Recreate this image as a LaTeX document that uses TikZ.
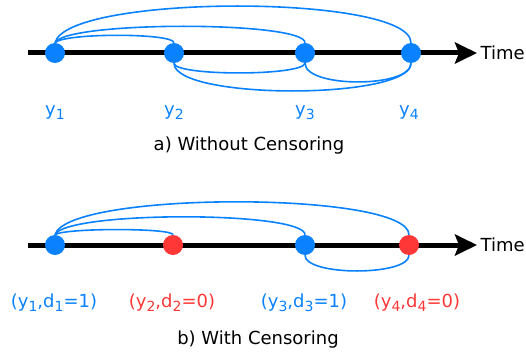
\documentclass[tikz,border=0pt]{standalone}
\usepackage{fontspec}
\setmainfont{DejaVu Sans}
\usetikzlibrary{arrows.meta}
\definecolor{evtblue}{RGB}{10,130,255}
\definecolor{cenred}{RGB}{255,55,55}
\newcommand{\idx}[1]{\raisebox{-4pt}{\fontsize{14}{14}\selectfont #1}}
\tikzset{
  axis/.style={line width=5pt,-{Stealth[length=22pt,width=21pt,inset=4pt]}},
  dot/.style={circle,fill=#1,minimum size=20pt,inner sep=0pt},
  arc/.style={evtblue,line width=1.6pt},
  lab/.style={text=#1,font=\fontsize{18}{21}\selectfont},
}
\begin{document}
\begin{tikzpicture}[x=1pt,y=1pt]
\useasboundingbox (0,0) rectangle (526,354);
% a) without censoring
\coordinate (AS) at (28,301);
\coordinate (AT) at (477,301);
\draw[axis] (AS) -- (AT);
\node[lab=black,anchor=west] (TA) at (AT) {Time};
\node[dot=evtblue] (A1) at (55,301) {};
\node[dot=evtblue] (A2) at (174,301) {};
\node[dot=evtblue] (A3) at (305,301) {};
\node[dot=evtblue] (A4) at (411,301) {};
\draw[arc] (A1.north) .. controls +(8,10) and +(0,10) .. (A2.north);
\draw[arc] (A1.north) .. controls +(10,22) and +(0,22) .. (A3.north);
\draw[arc] (A1.north) .. controls +(12,49) and +(0,49) .. (A4.north);
\draw[arc] (A2.south) .. controls +(0,-13) and +(-2,-13) .. (A3.south);
\draw[arc] (A3.south) .. controls +(0,-25) and +(0,-25) .. (A4.south);
\draw[arc] (A2.south) .. controls +(0,-37) and +(0,-37) .. (A4.south);
\node[lab=evtblue] (LA1) at (55,241) {y\idx{1}};
\node[lab=evtblue] (LA2) at (174,241) {y\idx{2}};
\node[lab=evtblue] (LA3) at (305,241) {y\idx{3}};
\node[lab=evtblue] (LA4) at (409,241) {y\idx{4}};
\node[lab=black] (CA) at (249,208) {a) Without Censoring};
% b) with censoring
\coordinate (BS) at (28,109);
\coordinate (BT) at (477,109);
\draw[axis] (BS) -- (BT);
\node[lab=black,anchor=west] (TB) at (BT) {Time};
\node[dot=evtblue] (B1) at (55,109) {};
\node[dot=cenred] (B2) at (173,109) {};
\node[dot=evtblue] (B3) at (305,109) {};
\node[dot=cenred] (B4) at (409,109) {};
\draw[arc] (B1.north) .. controls +(8,7) and +(0,7) .. (B2.north);
\draw[arc] (B1.north) .. controls +(10,24) and +(0,24) .. (B3.north);
\draw[arc] (B1.north) .. controls +(12,44) and +(0,44) .. (B4.north);
\draw[arc] (B3.south) .. controls +(0,-21) and +(0,-21) .. (B4.south);
\node[lab=evtblue] (LB1) at (54,51) {(y\idx{1},d\idx{1}=1)};
\node[lab=cenred] (LB2) at (172,51) {(y\idx{2},d\idx{2}=0)};
\node[lab=evtblue] (LB3) at (304,51) {(y\idx{3},d\idx{3}=1)};
\node[lab=cenred] (LB4) at (417,51) {(y\idx{4},d\idx{4}=0)};
\node[lab=black] (CB) at (258,14) {b) With Censoring};
\end{tikzpicture}
\end{document}
